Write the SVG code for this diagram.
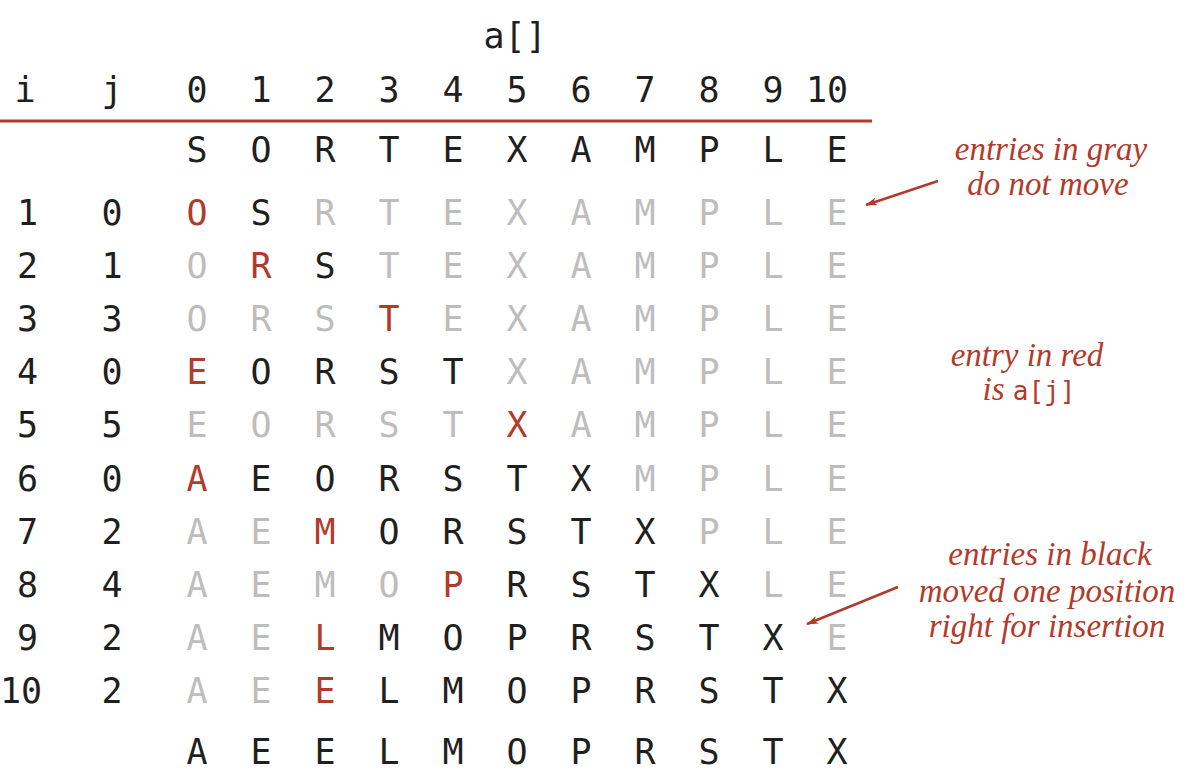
<svg xmlns="http://www.w3.org/2000/svg" width="1190" height="778" viewBox="0 0 1190 778">
<style>
text{font-family:"DejaVu Sans Mono","Liberation Mono",monospace;font-size:35px;text-anchor:middle;fill:#1f1f1f}
.g{fill:#bdbdbd}
.r{fill:#b23a2a}
.n{text-anchor:end}
.note{font-family:"Liberation Serif","DejaVu Serif",serif;font-style:italic;font-size:33px;fill:#b23a2a;text-anchor:middle}
.code{font-family:"DejaVu Sans Mono",monospace;font-style:normal;font-size:26px;fill:#b23a2a}
</style>
<defs>
<marker id="ah" viewBox="0 0 12 8" refX="11" refY="4" markerWidth="12" markerHeight="8" markerUnits="userSpaceOnUse" orient="auto">
<path d="M0,0 L12,4 L0,8 L3,4 Z" fill="#b23a2a"/>
</marker>
</defs>
<rect width="1190" height="778" fill="#fff"/>
<g id="header">
<text x="515" y="48">a[]</text>
<text x="25" y="102">i</text>
<text x="112" y="102">j</text>
<text x="197" y="102">0</text>
<text x="261" y="102">1</text>
<text x="325" y="102">2</text>
<text x="389" y="102">3</text>
<text x="453" y="102">4</text>
<text x="517" y="102">5</text>
<text x="581" y="102">6</text>
<text x="645" y="102">7</text>
<text x="709" y="102">8</text>
<text x="773" y="102">9</text>
<text x="827" y="102">10</text>
<line x1="0" y1="121" x2="872" y2="121" stroke="#b23a2a" stroke-width="3"/>
</g>
<g id="row0">
<text x="197" y="162">S</text><text x="261" y="162">O</text><text x="325" y="162">R</text><text x="389" y="162">T</text><text x="453" y="162">E</text><text x="517" y="162">X</text><text x="581" y="162">A</text><text x="645" y="162">M</text><text x="709" y="162">P</text><text x="773" y="162">L</text><text x="837" y="162">E</text>
</g>
<g id="row1">
<text class="n" x="38" y="225">1</text><text x="112" y="225">0</text>
<text class="r" x="197" y="225">O</text><text x="261" y="225">S</text><text class="g" x="325" y="225">R</text><text class="g" x="389" y="225">T</text><text class="g" x="453" y="225">E</text><text class="g" x="517" y="225">X</text><text class="g" x="581" y="225">A</text><text class="g" x="645" y="225">M</text><text class="g" x="709" y="225">P</text><text class="g" x="773" y="225">L</text><text class="g" x="837" y="225">E</text>
</g>
<g id="row2">
<text class="n" x="38" y="278">2</text><text x="112" y="278">1</text>
<text class="g" x="197" y="278">O</text><text class="r" x="261" y="278">R</text><text x="325" y="278">S</text><text class="g" x="389" y="278">T</text><text class="g" x="453" y="278">E</text><text class="g" x="517" y="278">X</text><text class="g" x="581" y="278">A</text><text class="g" x="645" y="278">M</text><text class="g" x="709" y="278">P</text><text class="g" x="773" y="278">L</text><text class="g" x="837" y="278">E</text>
</g>
<g id="row3">
<text class="n" x="38" y="331">3</text><text x="112" y="331">3</text>
<text class="g" x="197" y="331">O</text><text class="g" x="261" y="331">R</text><text class="g" x="325" y="331">S</text><text class="r" x="389" y="331">T</text><text class="g" x="453" y="331">E</text><text class="g" x="517" y="331">X</text><text class="g" x="581" y="331">A</text><text class="g" x="645" y="331">M</text><text class="g" x="709" y="331">P</text><text class="g" x="773" y="331">L</text><text class="g" x="837" y="331">E</text>
</g>
<g id="row4">
<text class="n" x="38" y="384">4</text><text x="112" y="384">0</text>
<text class="r" x="197" y="384">E</text><text x="261" y="384">O</text><text x="325" y="384">R</text><text x="389" y="384">S</text><text x="453" y="384">T</text><text class="g" x="517" y="384">X</text><text class="g" x="581" y="384">A</text><text class="g" x="645" y="384">M</text><text class="g" x="709" y="384">P</text><text class="g" x="773" y="384">L</text><text class="g" x="837" y="384">E</text>
</g>
<g id="row5">
<text class="n" x="38" y="437">5</text><text x="112" y="437">5</text>
<text class="g" x="197" y="437">E</text><text class="g" x="261" y="437">O</text><text class="g" x="325" y="437">R</text><text class="g" x="389" y="437">S</text><text class="g" x="453" y="437">T</text><text class="r" x="517" y="437">X</text><text class="g" x="581" y="437">A</text><text class="g" x="645" y="437">M</text><text class="g" x="709" y="437">P</text><text class="g" x="773" y="437">L</text><text class="g" x="837" y="437">E</text>
</g>
<g id="row6">
<text class="n" x="38" y="491">6</text><text x="112" y="491">0</text>
<text class="r" x="197" y="491">A</text><text x="261" y="491">E</text><text x="325" y="491">O</text><text x="389" y="491">R</text><text x="453" y="491">S</text><text x="517" y="491">T</text><text x="581" y="491">X</text><text class="g" x="645" y="491">M</text><text class="g" x="709" y="491">P</text><text class="g" x="773" y="491">L</text><text class="g" x="837" y="491">E</text>
</g>
<g id="row7">
<text class="n" x="38" y="544">7</text><text x="112" y="544">2</text>
<text class="g" x="197" y="544">A</text><text class="g" x="261" y="544">E</text><text class="r" x="325" y="544">M</text><text x="389" y="544">O</text><text x="453" y="544">R</text><text x="517" y="544">S</text><text x="581" y="544">T</text><text x="645" y="544">X</text><text class="g" x="709" y="544">P</text><text class="g" x="773" y="544">L</text><text class="g" x="837" y="544">E</text>
</g>
<g id="row8">
<text class="n" x="38" y="597">8</text><text x="112" y="597">4</text>
<text class="g" x="197" y="597">A</text><text class="g" x="261" y="597">E</text><text class="g" x="325" y="597">M</text><text class="g" x="389" y="597">O</text><text class="r" x="453" y="597">P</text><text x="517" y="597">R</text><text x="581" y="597">S</text><text x="645" y="597">T</text><text x="709" y="597">X</text><text class="g" x="773" y="597">L</text><text class="g" x="837" y="597">E</text>
</g>
<g id="row9">
<text class="n" x="38" y="650">9</text><text x="112" y="650">2</text>
<text class="g" x="197" y="650">A</text><text class="g" x="261" y="650">E</text><text class="r" x="325" y="650">L</text><text x="389" y="650">M</text><text x="453" y="650">O</text><text x="517" y="650">P</text><text x="581" y="650">R</text><text x="645" y="650">S</text><text x="709" y="650">T</text><text x="773" y="650">X</text><text class="g" x="837" y="650">E</text>
</g>
<g id="row10">
<text x="21" y="703">10</text><text x="112" y="703">2</text>
<text class="g" x="197" y="703">A</text><text class="g" x="261" y="703">E</text><text class="r" x="325" y="703">E</text><text x="389" y="703">L</text><text x="453" y="703">M</text><text x="517" y="703">O</text><text x="581" y="703">P</text><text x="645" y="703">R</text><text x="709" y="703">S</text><text x="773" y="703">T</text><text x="837" y="703">X</text>
</g>
<g id="final">
<text x="197" y="764">A</text><text x="261" y="764">E</text><text x="325" y="764">E</text><text x="389" y="764">L</text><text x="453" y="764">M</text><text x="517" y="764">O</text><text x="581" y="764">P</text><text x="645" y="764">R</text><text x="709" y="764">S</text><text x="773" y="764">T</text><text x="837" y="764">X</text>
</g>
<g id="note-gray">
<text class="note" x="1051" y="160">entries in gray</text>
<text class="note" x="1048" y="195">do not move</text>
</g>
<g id="note-red">
<text class="note" x="1027" y="366">entry in red</text>
<text class="note" x="1029" y="400">is <tspan class="code">a[j]</tspan></text>
</g>
<g id="note-black">
<text class="note" x="1050" y="565">entries in black</text>
<text class="note" x="1047" y="602">moved one position</text>
<text class="note" x="1047" y="637">right for insertion</text>
</g>
<g id="connectors" stroke="#b23a2a" stroke-width="2.5" fill="none">
<line x1="938" y1="181" x2="866" y2="205" marker-end="url(#ah)"/>
<line x1="898" y1="587" x2="807" y2="624" marker-end="url(#ah)"/>
</g>
</svg>
